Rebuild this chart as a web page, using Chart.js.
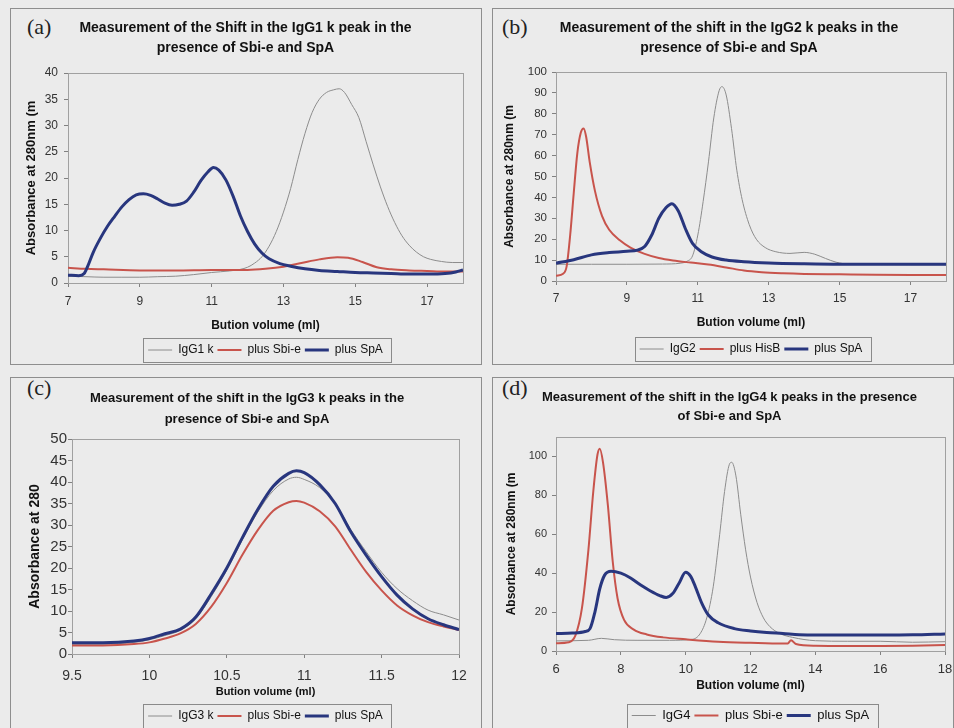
<!DOCTYPE html>
<html>
<head>
<meta charset="utf-8">
<script src="https://cdn.jsdelivr.net/npm/chart.js@4.4.1/dist/chart.umd.min.js"></script>
<style>
  html, body { margin: 0; padding: 0; background: #ebebeb; width: 954px; height: 728px; overflow: hidden; }
  .panel { position: absolute; border: 1px solid #8e8e8e; box-sizing: border-box; }
  canvas { position: absolute; }
  .tag { position: absolute; font-family: "Liberation Serif", "Times New Roman", serif; font-size: 22px; line-height: 22px; color: #222; }
</style>
</head>
<body>
<div class="panel" style="left:10px;top:8px;width:472px;height:357px"></div>
<div class="panel" style="left:492px;top:8px;width:462px;height:357px"></div>
<div class="panel" style="left:10px;top:377px;width:472px;height:370px"></div>
<div class="panel" style="left:492px;top:377px;width:462px;height:370px"></div>
<div class="tag" style="left:27px;top:16px">(a)</div>
<div class="tag" style="left:502px;top:16px">(b)</div>
<div class="tag" style="left:27px;top:377px">(c)</div>
<div class="tag" style="left:502px;top:377px">(d)</div>

<script>
// ---- (a) IgG1 k ----
var aIgX = [7,7.5,8,8.5,9,9.5,10,10.5,11,11.5,11.8,12,12.2,12.4,12.6,12.8,13,13.2,13.4,13.6,13.8,14,14.2,14.4,14.55,14.7,14.9,15.1,15.3,15.5,15.7,15.9,16.1,16.3,16.5,16.7,16.9,17.1,17.4,17.7,18];
var aIgY = [1.3,1.2,1.1,1.1,1.1,1.2,1.3,1.6,2.0,2.3,2.6,3.0,3.8,5.0,7.0,9.8,13.5,18,23.5,28.5,32.5,35,36.3,36.8,37,36.3,34,31.5,27,22.5,18.3,14.6,11.5,9,7.2,5.9,5.0,4.5,4.1,3.9,3.9];
var aSbX = [7,7.5,8,9,10,11,12,12.5,13,13.5,14,14.5,14.8,15.2,15.6,16,16.5,17,17.5,18];
var aSbY = [2.9,2.7,2.6,2.4,2.4,2.5,2.5,2.7,3.1,3.8,4.5,4.9,4.8,4.0,3.0,2.6,2.4,2.3,2.2,2.2];
var aSpX = [7,7.3,7.45,7.55,7.7,7.9,8.1,8.3,8.5,8.7,8.9,9.1,9.3,9.5,9.7,9.9,10.1,10.3,10.5,10.7,10.9,11.05,11.2,11.4,11.6,11.8,12,12.2,12.4,12.6,12.9,13.2,13.6,14,14.5,15,15.5,16,16.5,17,17.5,17.8,18];
var aSpY = [1.5,1.4,1.8,3.2,5.8,8.5,10.8,12.7,14.5,15.9,16.8,17.0,16.7,16.0,15.2,14.8,15.0,15.6,17.3,19.5,21.2,22.0,21.5,19.6,16.5,12.8,9.8,7.4,5.7,4.6,3.7,3.2,2.7,2.4,2.2,2.0,1.9,1.8,1.7,1.7,1.8,2.1,2.5];
var aXTicks = [7,9,11,13,15,17];
var aYTicks = [0,5,10,15,20,25,30,35,40];

// ---- (b) IgG2 ----
var bIgX = [7,8,9,10,10.5,10.7,10.85,11,11.15,11.3,11.45,11.6,11.68,11.8,11.95,12.1,12.25,12.45,12.65,12.9,13.2,13.6,14,14.3,14.6,14.9,15.3,16,17,18];
var bIgY = [8,8,8,8.1,8.5,9.5,12,22,38,57,78,91,93,89,73,53,39,27,20,16,14,13.2,13.7,12.8,10.8,9,8,7.9,7.8,7.8];
var bHbX = [7,7.2,7.3,7.4,7.5,7.6,7.7,7.78,7.85,7.95,8.1,8.3,8.5,8.8,9.1,9.5,9.9,10.3,10.8,11.3,11.8,12.3,12.8,13.4,14,15,16,17,18];
var bHbY = [2.5,3.5,7,22,42,61,71,73,69,57,43,31,24.5,19.5,16,13,11,9.8,8.8,7.9,6.5,5.0,4.2,3.7,3.4,3.2,3.0,2.9,2.9];
var bSpX = [7,7.5,8,8.5,9,9.3,9.5,9.7,9.9,10.1,10.27,10.45,10.65,10.85,11.1,11.4,11.8,12.3,13,14,15,16,17,18];
var bSpY = [8.5,10.2,12.5,13.6,14.2,14.8,16.5,22,30,35,37,33.5,25,18,14,11.5,10,9.2,8.6,8.2,8.0,8.0,8.0,8.0];
var bXTicks = [7,9,11,13,15,17];
var bYTicks = [0,10,20,30,40,50,60,70,80,90,100];

// ---- (c) IgG3 k ----
var cX = [9.5,9.7,9.9,10.0,10.1,10.2,10.3,10.4,10.5,10.6,10.7,10.8,10.9,10.95,11.0,11.1,11.2,11.3,11.4,11.5,11.6,11.7,11.8,11.9,12.0];
var cIgY = [2.3,2.3,2.7,3.3,4.3,5.5,8.2,13.4,19.5,26.5,33.0,38.0,40.7,41.1,40.6,38.7,35.0,29.0,23.8,19.0,15.2,12.4,10.2,9.1,7.9];
var cSbY = [2.0,2.0,2.3,2.7,3.6,4.8,7.0,11.0,16.5,23.0,28.8,33.3,35.3,35.6,35.2,33.2,29.7,24.3,19.1,14.8,11.3,9.0,7.4,6.4,5.6];
var cSpY = [2.6,2.6,3.0,3.6,4.7,5.8,8.6,14.0,20.0,27.0,33.6,39.0,42.0,42.6,42.2,39.4,35.0,28.5,23.0,18.0,13.7,10.5,8.2,6.8,5.7];
var cXTicks = [9.5,10,10.5,11,11.5,12];
var cYTicks = [0,5,10,15,20,25,30,35,40,45,50];

// ---- (d) IgG4 ----
var dIgX = [6,7,7.4,7.8,8.5,9.5,10.2,10.45,10.65,10.85,11.05,11.2,11.35,11.42,11.55,11.7,11.85,12,12.2,12.4,12.6,12.9,13.3,14,15,16,17,18];
var dIgY = [5.2,5.5,6.5,5.8,5.5,5.5,6,9,17,33,60,82,96,97,90,70,52,38,25,17,12.5,9,7,5.3,5,5,4.5,4.8];
var dSbX = [6,6.4,6.6,6.8,7.0,7.15,7.28,7.35,7.45,7.6,7.75,7.9,8.1,8.4,8.8,9.3,10,11,12,13,13.15,13.25,13.4,14,15,16,17,18];
var dSbY = [4,4.5,8,22,52,82,101,104,97,75,46,27,16,11,8.5,7,6,4.8,4.2,3.8,3.9,5.5,3.6,2.7,2.6,2.6,2.7,3.1];
var dSpX = [6,6.5,6.9,7.05,7.2,7.35,7.5,7.7,8.0,8.3,8.6,8.9,9.2,9.4,9.6,9.8,10.0,10.15,10.3,10.5,10.7,11.0,11.5,12,12.5,13,13.5,14,15,16,17,18];
var dSpY = [9,9.2,10,11.5,20,32,39,41,40,37.5,34,31,28.5,27.5,29.5,35,40.5,38.5,33,24.5,18.5,14.5,11.5,10.3,9.5,9,8.4,8.2,8.2,8.2,8.3,8.8];
var dXTicks = [6,8,10,12,14,16,18];
var dYTicks = [0,20,40,60,80,100];

var FONT = '"Liberation Sans", Arial, sans-serif';
var GRAY = '#8c8c8c', RED = '#c8544c', BLUE = '#28367e';

function pts(xs, ys) {
  return xs.map((x, i) => ({ x: x, y: ys[i] }));
}

function series(label, xs, ys, color, width, order) {
  return {
    label: label, data: pts(xs, ys), borderColor: color, backgroundColor: color,
    borderWidth: width, pointRadius: 0, cubicInterpolationMode: 'monotone', order: order, fill: false
  };
}

// plot-area frame + box around the legend, like the Excel originals
var framePlugin = {
  id: 'frame',
  beforeDatasetsDraw(chart) {
    var a = chart.chartArea, ctx = chart.ctx;
    ctx.save();
    ctx.strokeStyle = '#a0a0a0';
    ctx.lineWidth = 1;
    ctx.strokeRect(Math.round(a.left) + 0.5, Math.round(a.top) + 0.5, Math.round(a.right - a.left), Math.round(a.bottom - a.top));
    ctx.restore();
  },
  afterDraw(chart) {
    var hb = chart.legend.legendHitBoxes;
    if (!hb || !hb.length) return;
    var first = hb[0], last = hb[hb.length - 1];
    var cy = first.top + first.height / 2;
    var ctx = chart.ctx;
    ctx.save();
    ctx.strokeStyle = '#8a8a8a';
    ctx.lineWidth = 1;
    ctx.strokeRect(Math.round(first.left - 5) + 0.5, Math.round(cy - 12) + 0.5, Math.round(last.left + last.width - first.left + 13), 24);
    ctx.restore();
  }
};

// s holds page positions; everything else is derived
function makeChart(s) {
  var cx = s.canvas[0], cy = s.canvas[1], cw = s.canvas[2];
  var ch = Math.round(s.legY - cy + s.legFont / 2 + 10);
  var cv = document.createElement('canvas');
  cv.width = cw; cv.height = ch;
  cv.style.left = cx + 'px'; cv.style.top = cy + 'px';
  cv.style.width = cw + 'px'; cv.style.height = ch + 'px';
  document.body.appendChild(cv);

  var areaL = s.area[0] - cx, areaT = s.area[1] - cy, areaR = s.area[2] - cx, areaB = s.area[3] - cy;
  var padR = cw - areaR;
  var padL = 2 * (s.titleCx - cx) - cw + padR;
  var nLines = s.title.length;
  var tPadTop = s.titleY - cy - s.titleLH / 2;
  var tPadBot = areaT - tPadTop - nLines * s.titleLH;
  var legPad = 4;
  var legH = s.legFont + legPad + 10;
  var xH = ch - legH - areaB;
  var xTitlePadB = areaB + xH - s.xTitleFont * 1.2 / 2 - (s.xTitleY - cy);
  var xTickPad = s.xTickY - cy - areaB - 4 - s.xTickFont * 1.2 / 2;
  var yW = areaL - padL;
  var yTickPad = areaL - (s.yTickR - cx) - 4;
  var yTitlePadT = s.yTitleX - cx - padL - s.yTitleFont * 1.2 / 2;

  return new Chart(cv.getContext('2d'), {
    type: 'line',
    data: { datasets: s.datasets },
    options: {
      responsive: false,
      animation: false,
      devicePixelRatio: 1,
      layout: { padding: { left: padL, right: padR, top: 0, bottom: 0 } },
      plugins: {
        title: {
          display: true, text: s.title, color: '#111',
          font: { family: FONT, size: s.titleFont, weight: 'bold', lineHeight: s.titleLH + 'px' },
          padding: { top: tPadTop, bottom: tPadBot }
        },
        legend: {
          position: 'bottom', fullSize: false,
          labels: {
            usePointStyle: true, pointStyle: 'line', pointStyleWidth: 24, padding: legPad,
            color: '#111', font: { family: FONT, size: s.legFont },
            sort: (a, b) => a.datasetIndex - b.datasetIndex
          }
        },
        tooltip: { enabled: false }
      },
      scales: {
        x: {
          type: 'linear', min: s.xMin, max: s.xMax,
          afterBuildTicks: sc => { sc.ticks = s.xTicks.map(v => ({ value: v })); },
          afterFit: sc => { sc.height = xH; },
          grid: { drawOnChartArea: false, drawTicks: true, tickLength: 4, color: '#808080' },
          border: { display: true, color: '#808080' },
          ticks: { autoSkip: false, maxRotation: 0, padding: xTickPad, color: '#333',
                   font: { family: FONT, size: s.xTickFont }, callback: v => String(v) },
          title: { display: true, text: 'Bution volume (ml)', color: '#111',
                   font: { family: FONT, size: s.xTitleFont, weight: 'bold' },
                   padding: { top: 0, bottom: xTitlePadB } }
        },
        y: {
          min: s.yMin, max: s.yMax,
          afterBuildTicks: sc => { sc.ticks = s.yTicks.map(v => ({ value: v })); },
          afterFit: sc => { sc.width = yW; },
          grid: { drawOnChartArea: false, drawTicks: true, tickLength: 4, color: '#808080' },
          border: { display: true, color: '#808080' },
          ticks: { autoSkip: false, padding: yTickPad, color: '#333',
                   font: { family: FONT, size: s.yTickFont }, callback: v => String(v) },
          title: { display: true, text: s.yTitle, color: '#111',
                   font: { family: FONT, size: s.yTitleFont, weight: 'bold' },
                   padding: { top: yTitlePadT, bottom: 0 } }
        }
      }
    },
    plugins: [framePlugin]
  });
}

makeChart({
  canvas: [11, 9, 470], area: [68, 73, 463, 283],
  title: ['Measurement of the Shift in the IgG1 k peak in the', 'presence of Sbi-e and SpA'],
  titleFont: 14, titleCx: 245.5, titleY: 28.5, titleLH: 20,
  yTitle: 'Absorbance at 280nm (m', yTitleFont: 13, yTitleX: 31, yTickR: 58, yTickFont: 12,
  xTickY: 302, xTickFont: 12, xTitleFont: 12, xTitleY: 326, legFont: 12, legY: 350,
  xMin: 7, xMax: 18, yMin: 0, yMax: 40, xTicks: aXTicks, yTicks: aYTicks,
  datasets: [
    series('IgG1 k', aIgX, aIgY, GRAY, 1, 2),
    series('plus Sbi-e', aSbX, aSbY, RED, 2, 1),
    series('plus SpA', aSpX, aSpY, BLUE, 3, 0)
  ]
});

makeChart({
  canvas: [493, 9, 459], area: [556, 72, 946, 281],
  title: ['Measurement of the shift in the IgG2 k peaks in the', 'presence of Sbi-e and SpA'],
  titleFont: 14, titleCx: 729, titleY: 28.5, titleLH: 20,
  yTitle: 'Absorbance at 280nm (m', yTitleFont: 12, yTitleX: 510, yTickR: 547, yTickFont: 11.5,
  xTickY: 299, xTickFont: 12, xTitleFont: 12, xTitleY: 323, legFont: 12, legY: 349,
  xMin: 7, xMax: 18, yMin: 0, yMax: 100, xTicks: bXTicks, yTicks: bYTicks,
  datasets: [
    series('IgG2', bIgX, bIgY, GRAY, 1, 2),
    series('plus HisB', bHbX, bHbY, RED, 2, 1),
    series('plus SpA', bSpX, bSpY, BLUE, 3, 0)
  ]
});

makeChart({
  canvas: [11, 378, 470], area: [72, 439, 459, 654],
  title: ['Measurement of the shift in the IgG3 k peaks in the', 'presence of Sbi-e and SpA'],
  titleFont: 13, titleCx: 247, titleY: 398, titleLH: 21,
  yTitle: 'Absorbance at 280', yTitleFont: 14, yTitleX: 35, yTickR: 67, yTickFont: 15,
  xTickY: 676, xTickFont: 14, xTitleFont: 11, xTitleY: 692, legFont: 12, legY: 716,
  xMin: 9.5, xMax: 12, yMin: 0, yMax: 50, xTicks: cXTicks, yTicks: cYTicks,
  datasets: [
    series('IgG3 k', cX, cIgY, GRAY, 1, 2),
    series('plus Sbi-e', cX, cSbY, RED, 2, 1),
    series('plus SpA', cX, cSpY, BLUE, 3, 0)
  ]
});

makeChart({
  canvas: [493, 378, 468], area: [556, 437, 945, 651],
  title: ['Measurement of the shift in the IgG4 k peaks in the presence', 'of Sbi-e and SpA'],
  titleFont: 13, titleCx: 729.5, titleY: 397, titleLH: 19,
  yTitle: 'Absorbance at 280nm (m', yTitleFont: 12, yTitleX: 512, yTickR: 547, yTickFont: 11,
  xTickY: 669, xTickFont: 13, xTitleFont: 12, xTitleY: 686, legFont: 13, legY: 715,
  xMin: 6, xMax: 18, yMin: 0, yMax: 110, xTicks: dXTicks, yTicks: dYTicks,
  datasets: [
    series('IgG4', dIgX, dIgY, GRAY, 1, 2),
    series('plus Sbi-e', dSbX, dSbY, RED, 2, 1),
    series('plus SpA', dSpX, dSpY, BLUE, 3, 0)
  ]
});
</script>
</body>
</html>
